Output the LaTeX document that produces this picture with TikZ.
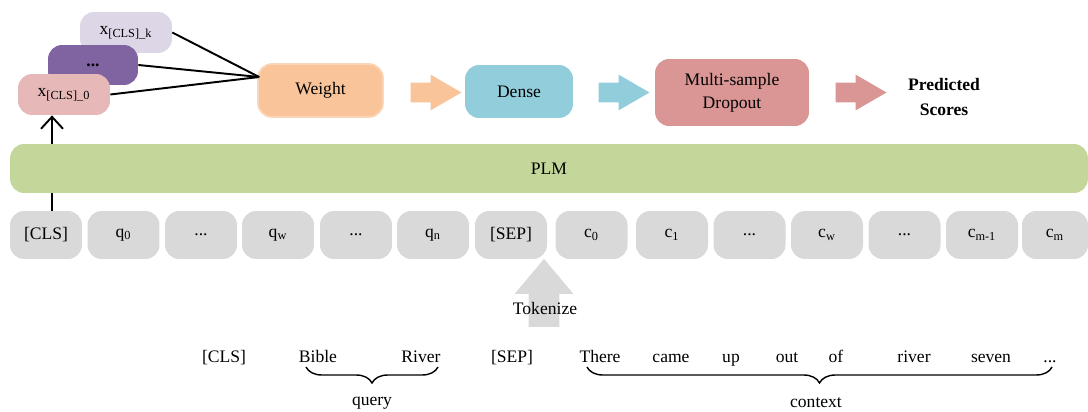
\documentclass[tikz,border=0pt]{standalone}
\usepackage{fontspec}
\setmainfont{Liberation Serif}
\usetikzlibrary{shapes.arrows,arrows.meta,positioning,calc,decorations.pathreplacing}
\definecolor{cToken}{RGB}{217,217,217}
\definecolor{cPLM}{RGB}{196,215,155}
\definecolor{cLav}{RGB}{221,214,230}
\definecolor{cPurp}{RGB}{128,100,162}
\definecolor{cPink}{RGB}{230,185,184}
\definecolor{cPeach}{RGB}{249,196,153}
\definecolor{cPeachLine}{RGB}{251,214,182}
\definecolor{cCyan}{RGB}{146,205,220}
\definecolor{cRose}{RGB}{217,150,148}
\tikzset{
  basebox/.style={rectangle,rounded corners=8pt,inner sep=0pt,align=center,
                  font=\normalsize},
  tokbox/.style={basebox,fill=cToken,minimum width=1.44cm,minimum height=0.96cm},
  clsbox/.style={basebox,minimum width=1.84cm,minimum height=0.82cm},
  stepbox/.style={basebox,minimum height=1.06cm},
  blockarr/.style={single arrow,inner xsep=0pt,inner ysep=0.19cm,minimum height=1.02cm,
                   minimum width=0.7cm,single arrow head extend=0.16cm,
                   single arrow tip angle=60},
  word/.style={anchor=base,inner sep=1pt,font=\normalsize},
  brc/.style={decorate,decoration={brace,mirror,amplitude=0.32cm},line width=0.8pt},
  arr/.style={-{Straight Barb[length=2.4mm,width=4.4mm]},line width=1.1pt},
  wline/.style={line width=1.1pt}
}
\begin{document}
\begin{tikzpicture}[x=0.02cm,y=-0.02cm]
  \useasboundingbox (0,0) rectangle (1088,412);

  % stacked [CLS] outputs
  \node[clsbox,fill=cLav] (xk) at (126,32.5) {x\textsubscript{[CLS]\_k}};
  \node[clsbox,fill=cPurp,minimum width=1.8cm,minimum height=0.8cm] (xdots) at (93,65) {\textbf{...}};
  \node[clsbox,fill=cPink] (xzero) at (64,94.5) {x\textsubscript{[CLS]\_0}};

  % head
  \node[stepbox,fill=cPeach,draw=cPeachLine,line width=1pt,minimum width=2.5cm] (weight) at (320.5,90.5) {Weight};
  \node[stepbox,fill=cCyan,minimum width=2.16cm] (dense) at (519,91.5) {Dense};
  \node[stepbox,fill=cRose,minimum width=3.08cm,minimum height=1.34cm] (drop) at (732,92.5) {Multi-sample\\[1pt]Dropout};
  \node[align=center,font=\normalsize\bfseries] (score) at (944,97) {Predicted\\[2pt]Scores};

  \node[blockarr,fill=cPeach] (a1) at (427.5,92.5) {};
  \node[blockarr,fill=cCyan] (a2) at (615.5,92.5) {};
  \node[blockarr,fill=cRose] (a3) at (852.5,92.5) {};

  \coordinate (hub) at ($(weight.west)+(2,-13.5)$);
  \draw[wline] (xk.east) -- (hub);
  \draw[wline] (xdots.east) -- (hub);
  \draw[wline] (xzero.east) -- (hub);

  % token row
  \node[tokbox] (cls) at (46,235) {[CLS]};
  \node[tokbox] (q0) at (123.5,235) {q\textsubscript{0}};
  \node[tokbox] (qd1) at (201,235) {...};
  \node[tokbox] (qw) at (278,235) {q\textsubscript{w}};
  \node[tokbox] (qd2) at (356,235) {...};
  \node[tokbox] (qn) at (433,235) {q\textsubscript{n}};
  \node[tokbox] (sep) at (511,235) {[SEP]};
  \node[tokbox] (c0) at (591.5,235) {c\textsubscript{0}};
  \node[tokbox] (c1) at (672,235) {c\textsubscript{1}};
  \node[tokbox] (cd1) at (749.5,235) {...};
  \node[tokbox] (cw) at (827,235) {c\textsubscript{w}};
  \node[tokbox] (cd2) at (904.5,235) {...};
  \node[tokbox] (cm1) at (982,235) {c\textsubscript{m-1}};
  \node[tokbox,minimum width=1.32cm] (cm) at (1055,235) {c\textsubscript{m}};

  \draw[arr] ([xshift=0.12cm]cls.north) -- ([xshift=0.12cm]cls.north |- xzero.south);

  % encoder
  \node[basebox,fill=cPLM,minimum width=21.56cm,minimum height=0.98cm] (plm) at (549,168.5) {PLM};

  % raw input
  \node[single arrow,shape border rotate=90,fill=cToken,inner xsep=0.3cm,inner ysep=0pt,
        minimum height=1.36cm,minimum width=1.16cm,single arrow head extend=0.28cm,
        single arrow tip angle=80] (tok) at (544,302) {};
  \node (toklbl) at (545,308) {Tokenize};

  \node[word] (wcls) at (224,362) {[CLS]};
  \node[word] (bible) at (318,362) {Bible};
  \node[word] (river) at (421,362) {River};
  \node[word] (wsep) at (512,362) {[SEP]};
  \node[word] (there) at (600,362) {There};
  \node[word] (came) at (671,362) {came};
  \node[word] (up) at (731,362) {up};
  \node[word] (out) at (787,362) {out};
  \node[word] (of) at (836,362) {of};
  \node[word] (rv) at (914,362) {river};
  \node[word] (seven) at (991,362) {seven};
  \node[word] (wdots) at (1050,362) {...};

  \draw[brc] (306,367) -- (438,367);
  \draw[brc] (587,367) -- (1052,367);
  \node (query) at (372,403) {query};
  \node (context) at (816,403) {context};
\end{tikzpicture}
\end{document}
